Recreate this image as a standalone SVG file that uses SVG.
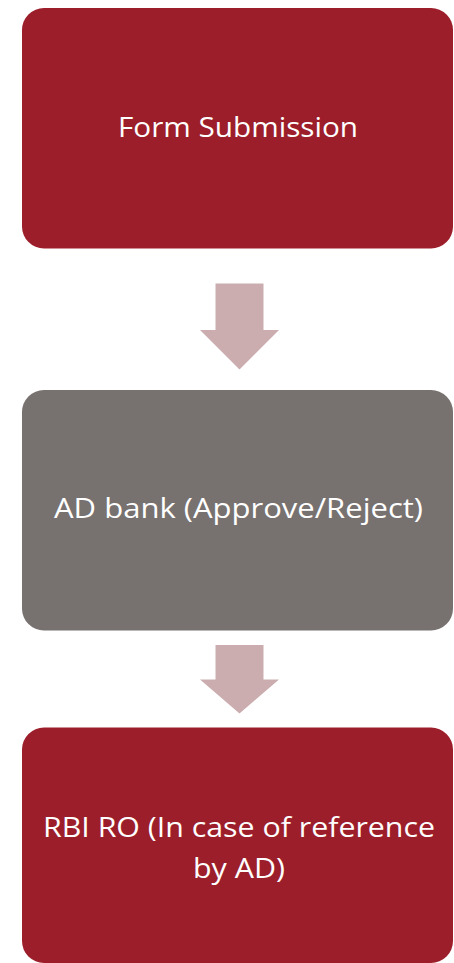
<svg xmlns="http://www.w3.org/2000/svg" width="454" height="963" viewBox="0 0 454 963">
  <style>
    .red { fill: #9C1E2A; }
    .gray { fill: #77716F; }
    .arrow { fill: #CBADAF; }
    .label { fill: #FFFFFF; font-family: "Open Sans", "Liberation Sans", sans-serif; font-size: 28px; text-anchor: middle; }
  </style>
  <rect width="454" height="963" fill="#FFFFFF"/>

  <g id="form-submission">
    <rect class="red" x="22" y="8" width="431" height="240.5" rx="22" ry="22"/>
    <text class="label" x="238" y="137" textLength="240" lengthAdjust="spacingAndGlyphs">Form Submission</text>
  </g>

  <g id="ad-bank">
    <rect class="gray" x="22" y="390" width="431" height="240.5" rx="22" ry="22"/>
    <text class="label" x="238.5" y="518" textLength="369" lengthAdjust="spacingAndGlyphs">AD bank (Approve/Reject)</text>
  </g>

  <g id="rbi-ro">
    <rect class="red" x="22" y="727.5" width="431" height="235.5" rx="22" ry="22"/>
    <text class="label" x="239" y="837" textLength="392" lengthAdjust="spacingAndGlyphs">RBI RO (In case of reference</text>
    <text class="label" x="239" y="878" textLength="92" lengthAdjust="spacingAndGlyphs">by AD)</text>
  </g>

  <g id="connectors">
    <polygon class="arrow" points="215.5,283.5 263.5,283.5 263.5,330 279,330 239.5,369.5 200,330 215.5,330"/>
    <polygon class="arrow" points="215.5,645 263.5,645 263.5,679.5 279,679.5 239.5,713.5 200,679.5 215.5,679.5"/>
  </g>
</svg>
